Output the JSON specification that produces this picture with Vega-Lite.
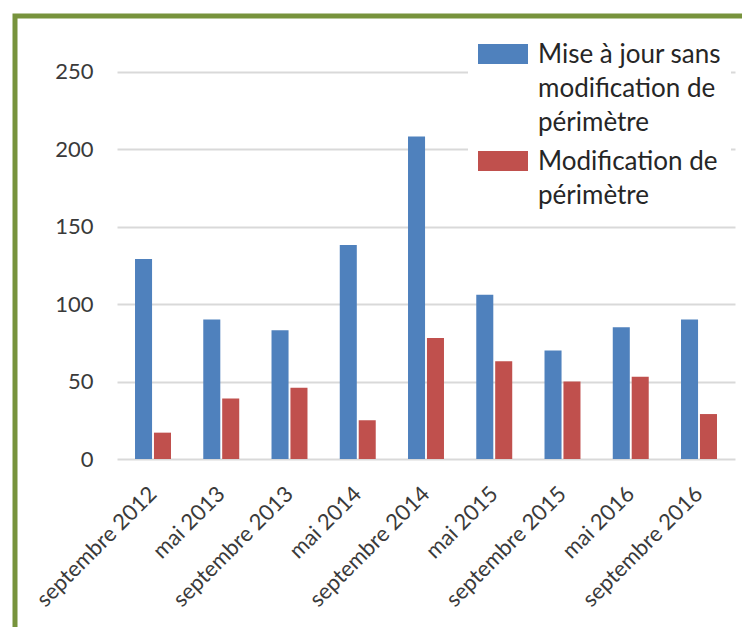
{
  "$schema": "https://vega.github.io/schema/vega-lite/v6.json",
  "autosize": {"type": "none"},
  "width": 740,
  "height": 620,
  "padding": {"left": 15, "top": 16, "right": 0, "bottom": 0},
  "background": "white",
  "data": {
    "values": [
      {"date": "septembre 2012", "serie": "Mise à jour sans modification de périmètre", "value": 129},
      {"date": "septembre 2012", "serie": "Modification de périmètre", "value": 17},
      {"date": "mai 2013", "serie": "Mise à jour sans modification de périmètre", "value": 90},
      {"date": "mai 2013", "serie": "Modification de périmètre", "value": 39},
      {"date": "septembre 2013", "serie": "Mise à jour sans modification de périmètre", "value": 83},
      {"date": "septembre 2013", "serie": "Modification de périmètre", "value": 46},
      {"date": "mai 2014", "serie": "Mise à jour sans modification de périmètre", "value": 138},
      {"date": "mai 2014", "serie": "Modification de périmètre", "value": 25},
      {"date": "septembre 2014", "serie": "Mise à jour sans modification de périmètre", "value": 208},
      {"date": "septembre 2014", "serie": "Modification de périmètre", "value": 78},
      {"date": "mai 2015", "serie": "Mise à jour sans modification de périmètre", "value": 106},
      {"date": "mai 2015", "serie": "Modification de périmètre", "value": 63},
      {"date": "septembre 2015", "serie": "Mise à jour sans modification de périmètre", "value": 70},
      {"date": "septembre 2015", "serie": "Modification de périmètre", "value": 50},
      {"date": "mai 2016", "serie": "Mise à jour sans modification de périmètre", "value": 85},
      {"date": "mai 2016", "serie": "Modification de périmètre", "value": 53},
      {"date": "septembre 2016", "serie": "Mise à jour sans modification de périmètre", "value": 90},
      {"date": "septembre 2016", "serie": "Modification de périmètre", "value": 29}
    ]
  },
  "mark": {"type": "bar"},
  "encoding": {
    "x": {
      "field": "date",
      "type": "nominal",
      "sort": null,
      "scale": {"range": [102, 720], "paddingInner": 0.473, "paddingOuter": 0.264},
      "axis": {
        "title": null,
        "orient": "bottom",
        "offset": -177,
        "labelAngle": -45,
        "labelAlign": "right",
        "labelBaseline": "middle",
        "labelPadding": 31,
        "ticks": false,
        "domain": false,
        "grid": false,
        "labelFont": "Lato",
        "labelFontSize": 22,
        "labelColor": "#3a3a3a"
      }
    },
    "xOffset": {
      "field": "serie",
      "type": "nominal",
      "scale": {"domain": ["Mise à jour sans modification de périmètre", "Modification de périmètre"], "paddingInner": 0.1, "paddingOuter": 0}
    },
    "y": {
      "field": "value",
      "type": "quantitative",
      "scale": {"domain": [0, 250], "range": [443, 55.5], "nice": false, "zero": true},
      "axis": {
        "title": null,
        "orient": "left",
        "offset": -102,
        "values": [0, 50, 100, 150, 200, 250],
        "labelPadding": 24,
        "ticks": false,
        "domain": false,
        "grid": true,
        "gridColor": "#D9D9D9",
        "gridWidth": 1.8,
        "labelFont": "Lato",
        "labelFontSize": 22,
        "labelColor": "#3a3a3a"
      }
    },
    "color": {
      "field": "serie",
      "type": "nominal",
      "scale": {"domain": ["Mise à jour sans modification de périmètre", "Modification de périmètre"], "range": ["#4F81BD", "#C0504D"]},
      "legend": {
        "title": null,
        "orient": "none",
        "legendX": 453,
        "legendY": 3,
        "fillColor": "white",
        "padding": 10,
        "symbolType": "M-1,-0.4L1,-0.4L1,0.4L-1,0.4Z",
        "symbolSize": 2500,
        "symbolStrokeWidth": 0,
        "symbolOpacity": 1,
        "labelOffset": 10,
        "labelLimit": 400,
        "labelFont": "Lato",
        "labelFontSize": 26,
        "labelColor": "#262626",
        "labelBaseline": "top",
        "rowPadding": -4,
        "labelExpr": "datum.value == 'Modification de périmètre' ? ['Modification de', 'périmètre'] : ['Mise à jour sans', 'modification de', 'périmètre']",
        "encode": {"labels": {"update": {"lineHeight": {"value": 34}, "dy": {"value": -12}}}}
      }
    }
  },
  "config": {
    "view": {"stroke": "#77933C", "strokeWidth": 5, "fill": "white"}
  }
}
